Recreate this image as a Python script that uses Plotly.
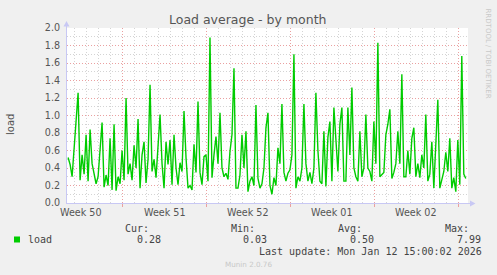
import plotly.graph_objects as go
from datetime import datetime, timedelta

# ---------------- data ----------------
# load average, one sample every 4 hours, ending at the last update
load = [
    0.52, 0.44, 0.30, 0.64, 0.86, 1.26, 0.26, 0.55, 0.33, 0.78, 0.25, 0.84, 0.45, 0.33, 0.22, 0.30, 0.65, 0.92, 0.18, 0.32, 0.20, 0.74, 0.15, 0.90, 0.14,
    0.30, 0.22, 0.60, 0.26, 1.20, 0.33, 0.45, 0.26, 0.66, 0.40, 0.96, 0.17, 0.55, 0.70, 0.23, 0.50, 1.35, 0.36, 0.50, 0.29, 0.69, 1.01, 0.45, 0.17, 0.70,
    0.44, 0.72, 0.21, 0.78, 0.40, 0.21, 0.46, 0.36, 1.05, 0.52, 0.17, 0.20, 0.15, 0.67, 0.35, 1.16, 0.35, 0.21, 0.53, 0.55, 0.25, 1.89, 0.29, 0.55, 0.76,
    0.45, 1.03, 0.40, 0.30, 0.34, 0.27, 0.59, 0.78, 1.54, 0.17, 0.17, 0.32, 0.78, 0.40, 0.82, 0.13, 0.25, 0.30, 0.20, 1.12, 0.28, 0.17, 0.22, 0.40, 0.86,
    1.03, 0.20, 0.10, 0.29, 0.20, 0.63, 0.45, 1.13, 0.35, 0.25, 0.34, 0.38, 0.55, 1.70, 0.17, 0.30, 0.25, 0.40, 1.13, 0.45, 0.25, 0.35, 0.22, 0.40, 1.26,
    0.60, 0.25, 0.22, 0.82, 0.19, 0.75, 0.93, 0.25, 1.09, 0.67, 0.36, 0.90, 1.09, 0.25, 0.25, 1.09, 0.55, 1.32, 0.40, 0.30, 0.25, 0.82, 0.30, 0.40, 1.01,
    0.40, 0.36, 0.25, 0.93, 0.45, 1.83, 0.30, 0.32, 0.35, 0.78, 0.90, 1.07, 0.28, 0.35, 0.45, 0.82, 0.45, 1.47, 0.30, 0.30, 0.60, 0.33, 0.74, 0.86, 0.30,
    0.45, 0.29, 0.55, 0.40, 1.01, 0.25, 0.33, 0.70, 0.17, 0.74, 1.18, 0.17, 0.25, 0.36, 0.58, 0.36, 0.74, 0.17, 0.29, 0.13, 0.72, 0.21, 1.68, 0.33, 0.28,
]
last_sample = "2026-01-12 15:00"
step_hours = 4

x_range = ["2025-12-10 08:48", "2026-01-12 19:24"]
week_starts = ["2025-12-15", "2025-12-22", "2025-12-29", "2026-01-05", "2026-01-12"]
week_label_pos = ["2025-12-11 12:00", "2025-12-18 12:00", "2025-12-25 12:00",
                  "2026-01-01 12:00", "2026-01-08 12:00"]
week_labels = ["Week 50", "Week 51", "Week 52", "Week 01", "Week 02"]

stat_names = ["Cur:", "Min:", "Avg:", "Max:"]
stat_values = ["0.28", "0.03", "0.50", "7.99"]
last_update = "Last update: Mon Jan 12 15:00:02 2026"

# ---------------- geometry helpers ----------------
W_FIG, H_FIG = 497, 275
L, R, T, B = 67, 29, 28, 72
PW = W_FIG - L - R
PH = H_FIG - T - B


def px(x):
    return (x - L) / PW


def py(y):
    return (H_FIG - B - y) / PH


end = datetime.strptime(last_sample, "%Y-%m-%d %H:%M")
times = [end - timedelta(hours=step_hours * (len(load) - 1 - i)) for i in range(len(load))]

SANS = "DejaVu Sans"
MONO = "DejaVu Sans Mono"
TXT = "#555555"
AXIS = "#c8c8f4"

fig = go.Figure()
fig.add_trace(go.Scatter(x=times, y=load, mode="lines",
                         line=dict(color="#00cc00", width=1.4),
                         hoverinfo="skip"))

fig.update_layout(
    width=W_FIG, height=H_FIG,
    margin=dict(l=L, r=R, t=T, b=B),
    paper_bgcolor="#f0f0f0", plot_bgcolor="white",
    showlegend=False,
    xaxis=dict(
        type="date", range=x_range,
        tickmode="array", tickvals=week_starts, showticklabels=False,
        showgrid=True, gridcolor="#eaa0a0", griddash="1px,2px", gridwidth=1,
        ticks="outside", ticklen=3, tickcolor="#eaa0a0",
        minor=dict(tickmode="linear", tick0="2025-12-01", dtick=86400000,
                   showgrid=True, gridcolor="#d4d4d4", griddash="1px,2px", gridwidth=1),
        showline=True, linecolor=AXIS, linewidth=1, zeroline=False,
        fixedrange=True,
    ),
    yaxis=dict(
        range=[0, 2.0], tickmode="linear", tick0=0, dtick=0.2, tickformat=".1f",
        showgrid=True, gridcolor="#eaa0a0", griddash="1px,2px", gridwidth=1,
        minor=dict(tickmode="linear", tick0=0, dtick=0.1,
                   showgrid=True, gridcolor="#d4d4d4", griddash="1px,2px", gridwidth=1),
        ticks="", ticklabelstandoff=4,
        tickfont=dict(family=SANS, size=9.6, color=TXT),
        showline=True, linecolor=AXIS, linewidth=1, zeroline=False,
        fixedrange=True,
    ),
)

ann = []
ann.append(dict(text="Load average - by month", x=px(247.5), y=py(19),
                font=dict(family=SANS, size=12.5, color=TXT)))
ann.append(dict(text="load", x=px(10), y=py(125), textangle=-90,
                font=dict(family=SANS, size=10, color=TXT)))
ann.append(dict(text="RRDTOOL / TOBI OETIKER", x=px(487.5), y=py(53), textangle=90,
                font=dict(family=SANS, size=7, color="#c8c8c8")))
for pos, lab in zip(week_label_pos, week_labels):
    ann.append(dict(text=lab, x=pos, xref="x", y=py(212),
                    font=dict(family=SANS, size=9.6, color=TXT)))

ann.append(dict(text="load", x=px(26), y=py(239.5), xanchor="left",
                font=dict(family=MONO, size=10, color="#444444")))
head_right = [150, 256, 363, 470]
for name, val, hr in zip(stat_names, stat_values, head_right):
    ann.append(dict(text=name, x=px(hr + 1), y=py(228), xanchor="right",
                    font=dict(family=MONO, size=10, color="#444444")))
    ann.append(dict(text=val, x=px(hr + 13), y=py(239.5), xanchor="right",
                    font=dict(family=MONO, size=10, color="#444444")))
ann.append(dict(text=last_update, x=px(483.5), y=py(251.7), xanchor="right",
                font=dict(family=MONO, size=10, color="#444444")))
ann.append(dict(text="Munin 2.0.76", x=px(248), y=py(264),
                font=dict(family=SANS, size=7.2, color="#c8c8c8")))

for a in ann:
    a.setdefault("xref", "paper")
    a["yref"] = "paper"
    a.setdefault("xanchor", "center")
    a["yanchor"] = "middle"
    a["showarrow"] = False
fig.update_layout(annotations=ann)

shapes = []
# legend colour box
shapes.append(dict(type="rect", xref="paper", yref="paper",
                   x0=px(14), x1=px(20), y0=py(242.5), y1=py(236.5),
                   fillcolor="#00cc00", line=dict(width=0)))
# axis extensions with arrows
shapes.append(dict(type="line", xref="paper", yref="paper",
                   x0=px(66.5), x1=px(66.5), y0=py(28), y1=py(24),
                   line=dict(color=AXIS, width=1)))
shapes.append(dict(type="path", xref="paper", yref="paper",
                   path=f"M {px(63.5)},{py(26.5)} L {px(69.5)},{py(26.5)} L {px(66.5)},{py(21)} Z",
                   fillcolor=AXIS, line=dict(width=0)))
shapes.append(dict(type="line", xref="paper", yref="paper",
                   x0=px(468), x1=px(472), y0=py(203.5), y1=py(203.5),
                   line=dict(color=AXIS, width=1)))
shapes.append(dict(type="path", xref="paper", yref="paper",
                   path=f"M {px(470)},{py(200.5)} L {px(470)},{py(206.5)} L {px(475.5)},{py(203.5)} Z",
                   fillcolor=AXIS, line=dict(width=0)))
fig.update_layout(shapes=shapes)

fig.write_html("out.html")
